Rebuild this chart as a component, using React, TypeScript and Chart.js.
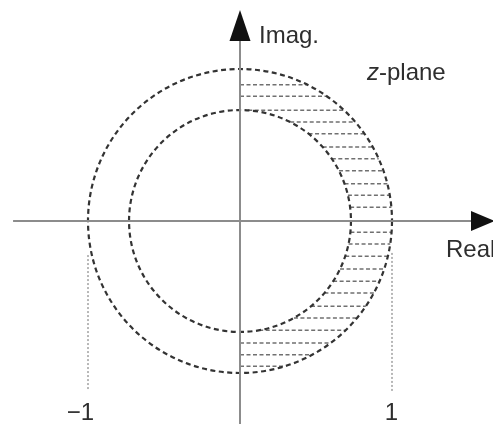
import React, { useEffect, useRef } from "react";
import { Chart, registerables } from "chart.js";

Chart.register(...registerables);

// ---- data ----
const circleRadii = [1, 0.73]; // outer (unit circle), inner
const hatchLevels = [
  0.09, 0.17, 0.245, 0.33, 0.41, 0.487, 0.574, 0.651, 0.728, 0.82, 0.897,
  -0.074, -0.151, -0.232, -0.316, -0.397, -0.474, -0.561, -0.638, -0.719, -0.803, -0.88, -0.956,
];
const tickValues = [-1, 1];
const tickLabels = ["\u22121", "1"];
const guideTops = [-0.224, -0.21];
const guideBottoms = [-1.118, -1.125];
const axisLabels = ["Imag.", "Real"];

// ---- layout (pixel geometry of the view) ----
const W = 493;
const H = 424;
const PPU = 152; // pixels per unit
const X_MIN = -240 / PPU;
const X_MAX = (W - 240) / PPU;
const Y_MAX = 221 / PPU;
const Y_MIN = -(H - 221) / PPU;

const FONT = '24px "Liberation Sans", Arial, sans-serif';

const zPlanePlugin = {
  id: "zplane",
  beforeDatasetsDraw(chart: any) {
    const ctx = chart.ctx;
    const xs = chart.scales.x;
    const ys = chart.scales.y;
    const cx = xs.getPixelForValue(0);
    const cy = ys.getPixelForValue(0);
    const outer = circleRadii[0];
    const inner = circleRadii[1];

    // hatch lines
    ctx.save();
    ctx.strokeStyle = "#707070";
    ctx.lineWidth = 1.5;
    ctx.setLineDash([4, 2.5]);
    hatchLevels.forEach((lv) => {
      const a = Math.abs(lv);
      if (a >= outer) return;
      const xe = Math.sqrt(outer * outer - a * a);
      const xsv = a < inner ? Math.sqrt(inner * inner - a * a) : 0;
      const py = ys.getPixelForValue(lv);
      ctx.beginPath();
      ctx.moveTo(xs.getPixelForValue(xsv), py);
      ctx.lineTo(xs.getPixelForValue(xe), py);
      ctx.stroke();
    });
    ctx.restore();

    // circles
    ctx.save();
    ctx.strokeStyle = "#333";
    ctx.lineWidth = 2.2;
    ctx.setLineDash([5, 3.5]);
    circleRadii.forEach((r) => {
      const rp = xs.getPixelForValue(r) - cx;
      ctx.beginPath();
      ctx.arc(cx, cy, rp, 0, Math.PI * 2);
      ctx.stroke();
    });
    ctx.restore();
  },
  afterDatasetsDraw(chart: any) {
    const ctx = chart.ctx;
    const xs = chart.scales.x;
    const ys = chart.scales.y;
    const cx = xs.getPixelForValue(0);
    const cy = ys.getPixelForValue(0);

    ctx.save();
    ctx.fillStyle = "#111";
    // vertical arrowhead
    ctx.beginPath();
    ctx.moveTo(cx, 10);
    ctx.lineTo(cx - 10.5, 41);
    ctx.lineTo(cx + 10.5, 41);
    ctx.closePath();
    ctx.fill();
    // horizontal arrowhead
    ctx.beginPath();
    ctx.moveTo(W + 2, cy);
    ctx.lineTo(W - 22, cy - 10);
    ctx.lineTo(W - 22, cy + 10);
    ctx.closePath();
    ctx.fill();

    // labels
    ctx.fillStyle = "#2e2e2e";
    ctx.font = FONT;
    ctx.textBaseline = "alphabetic";
    ctx.textAlign = "left";
    ctx.fillText(axisLabels[0], cx + 19, 43);
    ctx.fillText(axisLabels[1], W - 47, 257);
    // z-plane
    ctx.font = 'italic 24px "Liberation Sans", Arial, sans-serif';
    ctx.fillText("z", 367, 80);
    const zw = ctx.measureText("z").width;
    ctx.font = FONT;
    ctx.fillText("-plane", 367 + zw, 80);

    // tick labels
    ctx.textAlign = "right";
    tickValues.forEach((v, i) => {
      ctx.fillText(tickLabels[i], xs.getPixelForValue(v) + 6, 420);
    });
    ctx.restore();
  },
};

export default function App() {
  const ref = useRef<HTMLCanvasElement | null>(null);
  useEffect(() => {
    if (!ref.current) return;
    const chart = new Chart(ref.current, {
      type: "scatter",
      data: {
        datasets: [
          {
            data: [
              { x: -1.493, y: 0 },
              { x: 1.52, y: 0 },
            ],
            showLine: true,
            borderColor: "#8c8c8c",
            borderWidth: 2,
            pointRadius: 0,
          },
          {
            data: [
              { x: 0, y: 1.2 },
              { x: 0, y: Y_MIN },
            ],
            showLine: true,
            borderColor: "#8c8c8c",
            borderWidth: 2,
            pointRadius: 0,
          },
          ...tickValues.map((v, i) => ({
            data: [
              { x: v, y: guideTops[i] },
              { x: v, y: guideBottoms[i] },
            ],
            showLine: true,
            borderColor: "#a0a0a0",
            borderWidth: 1.5,
            borderDash: [2, 2],
            pointRadius: 0,
          })),
        ],
      },
      options: {
        animation: false,
        responsive: false,
        devicePixelRatio: 1,
        layout: { padding: 0 },
        scales: {
          x: { type: "linear", min: X_MIN, max: X_MAX, display: false },
          y: { type: "linear", min: Y_MIN, max: Y_MAX, display: false },
        },
        plugins: { legend: { display: false }, tooltip: { enabled: false } },
      },
      plugins: [zPlanePlugin],
    });
    return () => chart.destroy();
  }, []);
  return (
    <div style={{ position: "fixed", left: 0, top: 0, width: W, height: H, background: "#fff" }}>
      <canvas ref={ref} width={W} height={H} style={{ display: "block" }} />
    </div>
  );
}
